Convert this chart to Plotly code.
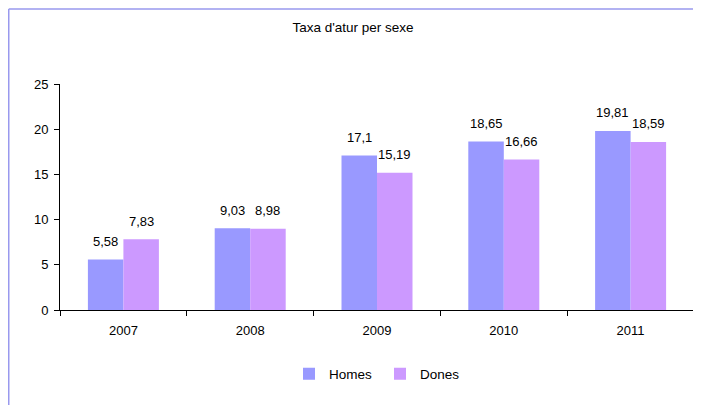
import plotly.graph_objects as go

years = ["2007", "2008", "2009", "2010", "2011"]
homes = [5.58, 9.03, 17.1, 18.65, 19.81]
dones = [7.83, 8.98, 15.19, 16.66, 18.59]
series_names = ["Homes", "Dones"]
colors = ["#9999FF", "#CC99FF"]
title_text = "Taxa d'atur per sexe"

W, H = 701, 405
# the page body has an 8px default margin, so figure coords = screen coords - 8
ml, mr, mt, mb = 52, 15, 76, 103
bargap = 0.44
font = "Liberation Sans, Arial, sans-serif"

def fmt(v):
    return ("%g" % v).replace(".", ",")

fig = go.Figure()
for name, vals, col in zip(series_names, [homes, dones], colors):
    fig.add_trace(go.Bar(x=years, y=vals, name=name, marker=dict(color=col, line=dict(width=0))))

plot_w = W - ml - mr
plot_h = H - mt - mb
cat_w = plot_w / len(years)
group_w = cat_w * (1 - bargap)
offset = group_w / 4

annotations = []
for sign, vals in zip([-1, 1], [homes, dones]):
    for i, v in enumerate(vals):
        annotations.append(dict(x=i, y=v, xref="x", yref="y", text=fmt(v), showarrow=False,
                                xshift=sign * offset, yshift=18, yanchor="middle",
                                font=dict(family=font, size=13, color="black")))

def px_x(p):
    return (p - ml) / plot_w

def px_y(p):
    return (H - mb - p) / plot_h

frame_col = "#9999EE"
shapes = [
    dict(type="line", xref="paper", yref="paper", x0=px_x(0.75), x1=px_x(0.75), y0=px_y(1),
         y1=px_y(H + 5), line=dict(color=frame_col, width=1.5)),
    dict(type="line", xref="paper", yref="paper", x0=px_x(0.75), x1=px_x(W + 5), y0=px_y(1),
         y1=px_y(1), line=dict(color=frame_col, width=1.5)),
]

fig.update_layout(
    width=W, height=H,
    margin=dict(l=ml, r=mr, t=mt, b=mb),
    paper_bgcolor="white", plot_bgcolor="white",
    barmode="group", bargap=bargap, bargroupgap=0,
    font=dict(family=font, size=13, color="black"),
    title=dict(text=title_text, x=345 / W, xanchor="center", y=1 - 19 / H, yanchor="middle",
               font=dict(family=font, size=13.5, color="black")),
    showlegend=True,
    legend=dict(orientation="h", x=px_x(372), xanchor="center", y=px_y(366), yanchor="middle",
                font=dict(family=font, size=13.5, color="black"), itemwidth=30,
                entrywidth=46, entrywidthmode="pixels", tracegroupgap=0),
    annotations=annotations,
    shapes=shapes,
    xaxis=dict(type="category", range=[-0.5, len(years) - 0.5], showline=True, linecolor="black",
               linewidth=1, ticks="outside", ticklen=5, tickcolor="black", tickson="boundaries",
               showgrid=False, ticklabelstandoff=8,
               tickfont=dict(family=font, size=13, color="black")),
    yaxis=dict(range=[0, 25], dtick=5, showline=True, linecolor="black", linewidth=1,
               ticks="outside", ticklen=5, tickcolor="black", showgrid=False, zeroline=False,
               ticklabelstandoff=3, tickfont=dict(family=font, size=13, color="black")),
)

fig.write_html("out.html")
